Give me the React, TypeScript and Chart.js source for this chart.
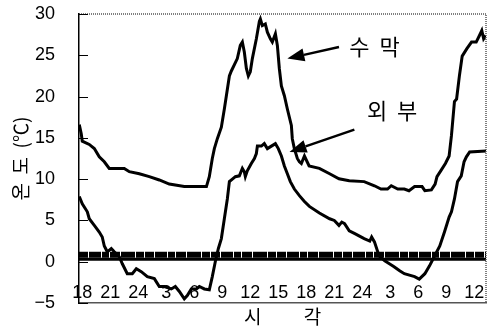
import { useEffect, useRef } from 'react';
import { Chart, registerables } from 'chart.js';

Chart.register(...registerables);

// ---- axis definitions ----
const X_MIN = -0.35;
const X_MAX = 43.25;
const xTickHours = [0, 3, 6, 9, 12, 15, 18, 21, 24, 27, 30, 33, 36, 39, 42];
const xTickLabels = ['18', '21', '24', '3', '6', '9', '12', '15', '18', '21', '24', '3', '6', '9', '12'];
const Y_MIN = -5;
const Y_MAX = 30;
const Y_STEP = 5;
const yTitle = '온  도  (℃)';
const xTitle = '시　　 각';

// ---- series: 수막 (curtain) ----
const suMakHours = [-0.32, -0.11, 0, 0.75, 1.29, 1.82, 2.36, 2.89, 4.5, 5.04, 6.11, 7.18, 8.25, 9.32, 10.93, 13.3, 13.61, 13.93, 14.15, 14.47, 14.9, 15.22, 15.76, 15.97, 16.61, 16.93, 17.15, 17.36, 17.58, 17.79, 18.0, 18.22, 18.65, 18.97, 19.08, 19.29, 19.61, 19.83, 20.15, 20.36, 20.69, 20.9, 21.11, 21.33, 21.65, 21.97, 22.4, 22.5, 22.72, 23.04, 23.26, 23.47, 23.8, 24.3, 25.4, 26.5, 27.5, 28.6, 30.2, 31.3, 32.0, 32.7, 33.1, 33.8, 34.5, 35.0, 35.6, 36.4, 36.7, 37.4, 37.8, 38.0, 38.4, 38.9, 39.3, 39.55, 39.87, 40.1, 40.4, 40.7, 41.2, 41.7, 42.2, 42.55, 42.8, 43.0, 43.25];
const suMakTemps = [16.6, 15.5, 14.6, 14.2, 13.7, 12.7, 12.1, 11.3, 11.3, 10.9, 10.65, 10.3, 9.9, 9.4, 9.1, 9.1, 10.3, 12.5, 13.7, 14.9, 16.3, 18.5, 22.5, 23.1, 24.6, 26.2, 26.6, 25.4, 23.4, 22.5, 23.0, 24.6, 27.0, 29.1, 29.4, 28.6, 28.8, 27.8, 27.0, 26.6, 27.6, 26.2, 23.4, 21.3, 20.1, 18.5, 16.5, 14.9, 13.7, 12.5, 12.1, 11.9, 12.8, 11.6, 11.3, 10.65, 10.05, 9.8, 9.7, 9.2, 8.8, 8.8, 9.2, 8.8, 8.8, 8.6, 9.1, 9.1, 8.6, 8.7, 9.4, 10.3, 11.0, 11.9, 12.8, 15.3, 19.4, 19.7, 22.5, 24.9, 25.8, 26.6, 26.6, 27.4, 28.0, 27.0, 27.4];

// ---- series: 외부 (outside) ----
const oeBuHours = [-0.32, 0, 0.54, 0.75, 1.29, 1.82, 2.14, 2.36, 2.68, 3.11, 3.43, 3.97, 4.29, 4.82, 5.36, 5.79, 6.32, 6.97, 7.72, 8.25, 8.79, 9.54, 9.97, 10.4, 10.93, 11.25, 11.68, 12.22, 12.54, 13.08, 13.61, 13.93, 14.25, 14.58, 14.9, 15.22, 15.54, 15.76, 16.08, 16.4, 16.83, 17.15, 17.36, 17.47, 17.68, 18.11, 18.44, 18.65, 18.76, 19.19, 19.5, 19.83, 20.26, 20.69, 21.0, 21.33, 21.65, 21.97, 22.29, 22.72, 23.26, 23.8, 24.33, 25.4, 26.5, 27.0, 27.5, 27.8, 28.1, 28.6, 29.2, 29.7, 30.2, 30.8, 31.0, 31.3, 31.8, 32.4, 32.9, 33.4, 34.0, 34.5, 35.6, 36.1, 36.7, 37.2, 37.7, 38.3, 38.8, 39.3, 39.55, 39.87, 40.2, 40.6, 40.9, 41.15, 41.5, 43.25];
const oeBuTemps = [7.9, 7.0, 6.05, 5.2, 4.4, 3.6, 3.0, 1.9, 1.2, 1.6, 1.2, 0.6, -0.25, -1.45, -1.45, -0.85, -1.2, -1.8, -2.05, -3.0, -3.0, -3.3, -3.0, -3.6, -4.5, -4.1, -3.3, -3.3, -3.0, -3.3, -3.4, -1.8, 0, 1.6, 2.8, 5.2, 7.6, 9.7, 10.0, 10.3, 10.4, 11.3, 10.9, 10.3, 11.0, 11.9, 12.5, 13.1, 14.0, 14.0, 14.3, 13.7, 14.0, 14.3, 13.7, 12.8, 11.6, 10.65, 9.7, 8.8, 8.0, 7.3, 6.7, 5.9, 5.2, 5.0, 4.4, 4.8, 4.6, 3.75, 3.4, 3.1, 2.8, 2.5, 3.0, 2.4, 0.7, 0.1, -0.25, -0.6, -1.1, -1.45, -1.8, -2.1, -1.45, -0.5, 0.6, 1.9, 3.6, 5.4, 6.05, 7.6, 9.7, 10.4, 12.1, 12.7, 13.3, 13.4];

// ---- reference band near 0 ----
const bandLevel = 0.85;
const baseLevel = 0.3;

// ---- annotations ----
const noteTexts = ['수  막', '외  부'];
const noteTextX = [31.3, 33.2];
const noteTextY = [26.1, 18.3];
const arrowFromX = [27.5, 29.15];
const arrowFromY = [26.0, 16.0];
const arrowToX = [21.97, 22.2];
const arrowToY = [24.6, 13.3];

const NUM_FONT = "'Liberation Sans', Arial, sans-serif";
const KR_FONT = "'Noto Sans CJK KR', sans-serif";

const decorPlugin = {
  id: 'decor',
  afterDraw(chart: any) {
    const { ctx, chartArea } = chart;
    const xs = chart.scales.x;
    const ys = chart.scales.y;
    ctx.save();
    // top & right dotted frame
    ctx.strokeStyle = '#555';
    ctx.lineWidth = 1.5;
    ctx.setLineDash([1, 1]);
    ctx.beginPath();
    ctx.moveTo(chartArea.left, chartArea.top);
    ctx.lineTo(chartArea.right, chartArea.top);
    ctx.lineTo(chartArea.right, chartArea.bottom);
    ctx.stroke();
    ctx.setLineDash([]);
    // inward y ticks
    ctx.strokeStyle = '#000';
    ctx.lineWidth = 1;
    for (let v = Y_MIN; v <= Y_MAX; v += Y_STEP) {
      const py = Math.round(ys.getPixelForValue(v)) + 0.5;
      ctx.beginPath();
      ctx.moveTo(chartArea.left, py);
      ctx.lineTo(chartArea.left + 9, py);
      ctx.stroke();
    }
    // annotations
    ctx.fillStyle = '#000';
    ctx.font = `22px ${KR_FONT}`;
    ctx.textAlign = 'center';
    ctx.textBaseline = 'middle';
    for (let i = 0; i < noteTexts.length; i++) {
      ctx.fillText(noteTexts[i], xs.getPixelForValue(noteTextX[i]), ys.getPixelForValue(noteTextY[i]));
      const fx = xs.getPixelForValue(arrowFromX[i]);
      const fy = ys.getPixelForValue(arrowFromY[i]);
      const tx = xs.getPixelForValue(arrowToX[i]);
      const ty = ys.getPixelForValue(arrowToY[i]);
      const ang = Math.atan2(ty - fy, tx - fx);
      const len = 17;
      const hw = 6.5;
      const bx = tx - len * Math.cos(ang);
      const by = ty - len * Math.sin(ang);
      ctx.lineWidth = 2.5;
      ctx.beginPath();
      ctx.moveTo(fx, fy);
      ctx.lineTo(bx, by);
      ctx.stroke();
      ctx.beginPath();
      ctx.moveTo(tx, ty);
      ctx.lineTo(bx + hw * Math.sin(ang), by - hw * Math.cos(ang));
      ctx.lineTo(bx - hw * Math.sin(ang), by + hw * Math.cos(ang));
      ctx.closePath();
      ctx.fill();
    }
    ctx.restore();
  },
};

export default function App() {
  const canvasRef = useRef<HTMLCanvasElement | null>(null);

  useEffect(() => {
    const canvas = canvasRef.current;
    if (!canvas) return;
    const toPts = (xsArr: number[], ysArr: number[]) => xsArr.map((x, i) => ({ x, y: ysArr[i] }));
    const chart = new Chart(canvas, {
      type: 'line',
      data: {
        datasets: [
          {
            label: '수막',
            data: toPts(suMakHours, suMakTemps),
            borderColor: '#000',
            borderWidth: 3,
            pointRadius: 0,
            tension: 0,
            order: 1,
          },
          {
            label: '외부',
            data: toPts(oeBuHours, oeBuTemps),
            borderColor: '#000',
            borderWidth: 3,
            pointRadius: 0,
            tension: 0,
            order: 1,
          },
          {
            label: 'band',
            data: [{ x: X_MIN, y: bandLevel }, { x: X_MAX, y: bandLevel }],
            borderColor: '#000',
            borderWidth: 6,
            borderDash: [9, 1, 12, 1, 7, 1, 10, 1, 14, 1, 8, 1],
            pointRadius: 0,
            order: 2,
          },
          {
            label: 'base',
            data: [{ x: X_MIN, y: baseLevel }, { x: X_MAX, y: baseLevel }],
            borderColor: '#000',
            borderWidth: 3,
            pointRadius: 0,
            order: 2,
          },
        ],
      },
      options: {
        responsive: false,
        animation: false,
        events: [],
        layout: { padding: { top: 14, right: 1, left: 0, bottom: 0 } },
        plugins: { legend: { display: false }, tooltip: { enabled: false }, title: { display: false } },
        scales: {
          x: {
            type: 'linear',
            min: X_MIN,
            max: X_MAX,
            afterBuildTicks: (scale: any) => {
              scale.ticks = xTickHours.map((v) => ({ value: v }));
            },
            afterFit: (scale: any) => {
              scale.height = 28;
            },
            grid: { display: false, drawTicks: false },
            border: { display: true, color: '#555', width: 1.5, dash: [1, 1] },
            ticks: {
              autoSkip: false,
              maxRotation: 0,
              mirror: true,
              padding: -1,
              color: '#000',
              font: { size: 18, family: NUM_FONT },
              callback: (value: any) => {
                const idx = xTickHours.indexOf(Number(value));
                return idx >= 0 ? xTickLabels[idx] : '';
              },
            },
            title: {
              display: true,
              text: xTitle,
              color: '#000',
              font: { size: 19, family: KR_FONT },
              padding: { top: 0, bottom: 3 },
            },
          },
          y: {
            type: 'linear',
            min: Y_MIN,
            max: Y_MAX,
            afterFit: (scale: any) => {
              scale.width = 79;
            },
            grid: {
              display: true,
              drawOnChartArea: false,
              drawTicks: true,
              tickLength: 23,
              tickColor: 'rgba(0,0,0,0)',
            },
            border: { display: true, color: '#000', width: 1.5 },
            ticks: {
              stepSize: Y_STEP,
              padding: 1,
              color: '#000',
              font: { size: 18, family: NUM_FONT },
              callback: (value: any) => String(value).replace('-', '−'),
            },
            title: {
              display: true,
              text: yTitle,
              color: '#000',
              font: { size: 19, family: KR_FONT },
              padding: { top: 9, bottom: 0 },
            },
          },
        },
      },
      plugins: [decorPlugin],
    });
    return () => chart.destroy();
  }, []);

  return (
    <div style={{ position: 'absolute', left: 0, top: 0, width: 487, height: 331, background: '#fff' }}>
      <canvas ref={canvasRef} width={487} height={331} style={{ display: 'block' }} />
    </div>
  );
}
